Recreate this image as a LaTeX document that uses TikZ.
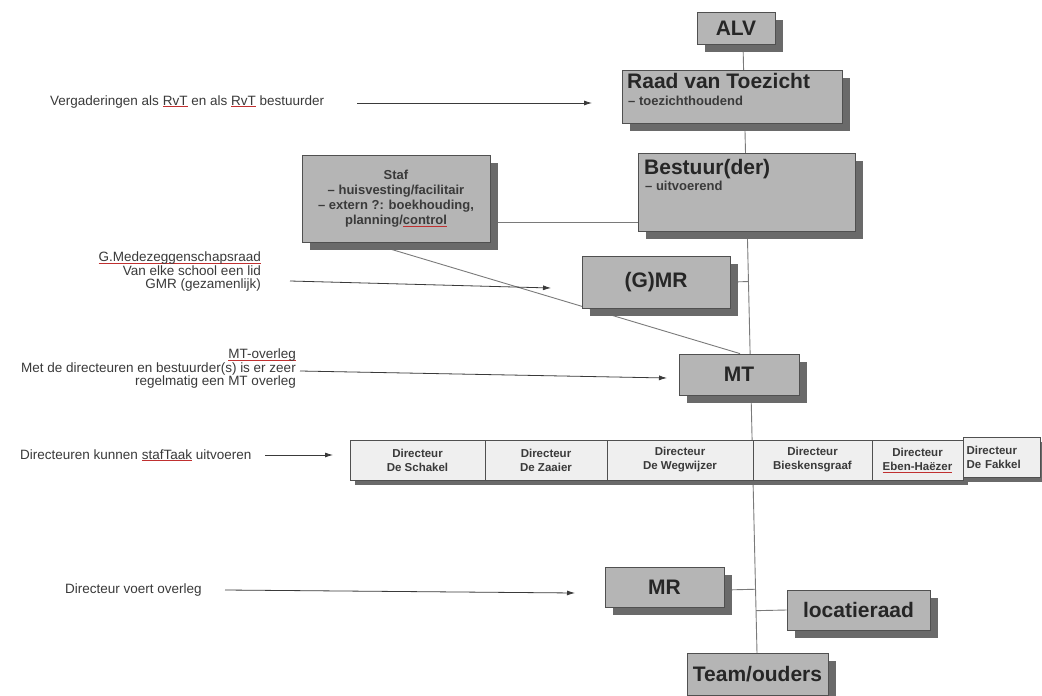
\documentclass[tikz,border=0pt]{standalone}
\usepackage{fontspec}
\setmainfont{Liberation Sans}
\usetikzlibrary{shadows,arrows.meta,backgrounds,calc}
\definecolor{boxfill}{HTML}{B5B5B5}
\definecolor{boxline}{HTML}{505050}
\definecolor{shade}{HTML}{6A6A6A}
\definecolor{dirfill}{HTML}{EFEFEF}
\definecolor{linegray}{HTML}{7A7A7A}
\definecolor{txtgray}{HTML}{3A3A3A}
\definecolor{spellred}{HTML}{C03030}
\newcommand\spellmark[1]{\sbox0{#1}\rlap{\textcolor{spellred}{\rule[-2pt]{\wd0}{0.6pt}}}\usebox0}
\tikzset{
  orgbox/.style={draw=boxline, fill=boxfill, line width=0.8pt, inner sep=0pt,
    drop shadow={shadow xshift=8pt, shadow yshift=-8pt, fill=shade, opacity=1}},
  bigtext/.style={font=\fontsize{21}{24}\selectfont\bfseries, text=black!85},
  smallbold/.style={font=\fontsize{13}{15}\selectfont\bfseries, text=txtgray, inner sep=0pt},
  dirbox/.style={draw=boxline, fill=dirfill, line width=0.8pt, inner sep=0pt, align=center,
    minimum height=40pt, font=\fontsize{11.5}{14}\selectfont\bfseries, text=txtgray,
    drop shadow={shadow xshift=5pt, shadow yshift=-5pt, fill=shade, opacity=1}},
  notetext/.style={font=\fontsize{13.5}{13.5}\selectfont, text=txtgray, inner sep=0pt},
  conn/.style={draw=linegray, line width=0.9pt},
  notearrow/.style={draw=txtgray, line width=0.8pt, -{Latex[length=8pt,width=5pt]}},
}
\begin{document}
\begin{tikzpicture}[x=1pt,y=-1pt]
\useasboundingbox (0,0) rectangle (1042,696);

% main boxes
\node[orgbox, bigtext, minimum width=78pt, minimum height=32pt] (alv) at (736,28) {ALV};
\node[orgbox, minimum width=220pt, minimum height=53pt] (rvt) at (732,96.5) {};
\node[bigtext, anchor=base west, inner sep=0pt] (rvtt) at (627,88) {Raad van Toezicht};
\node[smallbold, anchor=base west] (rvts) at (628,105) {– toezichthoudend};

\node[orgbox, minimum width=217pt, minimum height=78pt] (bes) at (746.5,192) {};
\node[bigtext, anchor=base west, inner sep=0pt] (best) at (644,174) {Bestuur(der)};
\node[smallbold, anchor=base west] (bess) at (645,190) {– uitvoerend};

\node[orgbox, minimum width=188pt, minimum height=87pt, align=center,
  font=\fontsize{13}{15}\selectfont\bfseries, text=txtgray] (staf) at (396,198.5)
  {Staf\\– huisvesting/facilitair\\– extern ?: boekhouding,\\planning/\spellmark{control}};

\node[orgbox, bigtext, minimum width=148pt, minimum height=52pt] (gmr) at (656,282) {(G)MR};
\node[orgbox, bigtext, minimum width=120pt, minimum height=41pt] (mt) at (739,374.5) {MT};

% directeuren
\node[dirbox, minimum width=135pt] (d1) at (417.5,460) {Directeur\\De Schakel};
\node[dirbox, minimum width=122pt] (d2) at (546,460) {Directeur\\De Zaaier};
\node[dirbox, minimum width=146pt] (d3) at (680,460) {Directeur\\De Wegwijzer};
\node[dirbox, minimum width=119pt] (d4) at (812.5,460) {Directeur\\Bieskensgraaf};
\node[dirbox, minimum width=91pt] (d5) at (917.5,460) {Directeur\\\spellmark{Eben-Haëzer}};
\node[dirbox, minimum width=77pt, align=left, text width=70pt] (d6) at (1001.5,457) {Directeur\\De Fakkel};

\node[orgbox, bigtext, minimum width=119pt, minimum height=40pt] (mr) at (664.5,587) {MR};
\node[orgbox, bigtext, minimum width=143pt, minimum height=40pt] (loc) at (858.5,610) {locatieraad};
\node[orgbox, bigtext, minimum width=141pt, minimum height=42pt] (team) at (757.5,674) {Team/ouders};

% notes
\node[notetext, anchor=base west] (n1) at (50,105)
  {Vergaderingen als \spellmark{RvT} en als \spellmark{RvT} bestuurder};
\node[notetext, anchor=north east, align=right] (n2) at (261,252)
  {\spellmark{G.Medezeggenschapsraad}\\Van elke school een lid\\GMR (gezamenlijk)};
\node[notetext, anchor=north east, align=right] (n3) at (296,349)
  {\spellmark{MT-overleg}\\Met de directeuren en bestuurder(s) is er zeer\\regelmatig een MT overleg};
\node[notetext, anchor=base west] (n4) at (20,459)
  {Directeuren kunnen \spellmark{stafTaak} uitvoeren};
\node[notetext, anchor=base west] (n5) at (65,593) {Directeur voert overleg};

\coordinate (a1s) at (357,103); \coordinate (a1e) at (592,103);
\coordinate (a2s) at (290,281); \coordinate (a2e) at (551,288);
\coordinate (a3s) at (300,371); \coordinate (a3e) at (667,378);
\coordinate (a4s) at (265,455); \coordinate (a4e) at (333,455);
\coordinate (a5s) at (225,590); \coordinate (a5e) at (575,593);
\coordinate (spinetop) at (743,44);
\coordinate (spinebot) at (757,653);

\begin{pgfonlayer}{background}
  \fill[white] (0,0) rectangle (1042,696);
  \draw[conn] (spinetop) -- (spinebot);
  \draw[conn] ($(staf.south east)+(0,-20)$) -- ($(bes.south west)+(0,-9)$);
  \draw[conn] ($(staf.south)+(-28,0)$) -- ($(mt.north)+(1,0)$);
  \draw[conn] (gmr.east) -- ($(spinetop)!(gmr.east)!(spinebot)$);
  \draw[conn] ($(mr.east)+(0,3)$) -- ($(spinetop)!($(mr.east)+(0,3)$)!(spinebot)$);
  \draw[conn] ($(spinetop)!(loc.west)!(spinebot)$) -- (loc.west);
\end{pgfonlayer}

\draw[notearrow] (a1s) -- (a1e);
\draw[notearrow] (a2s) -- (a2e);
\draw[notearrow] (a3s) -- (a3e);
\draw[notearrow] (a4s) -- (a4e);
\draw[notearrow] (a5s) -- (a5e);
\end{tikzpicture}
\end{document}
